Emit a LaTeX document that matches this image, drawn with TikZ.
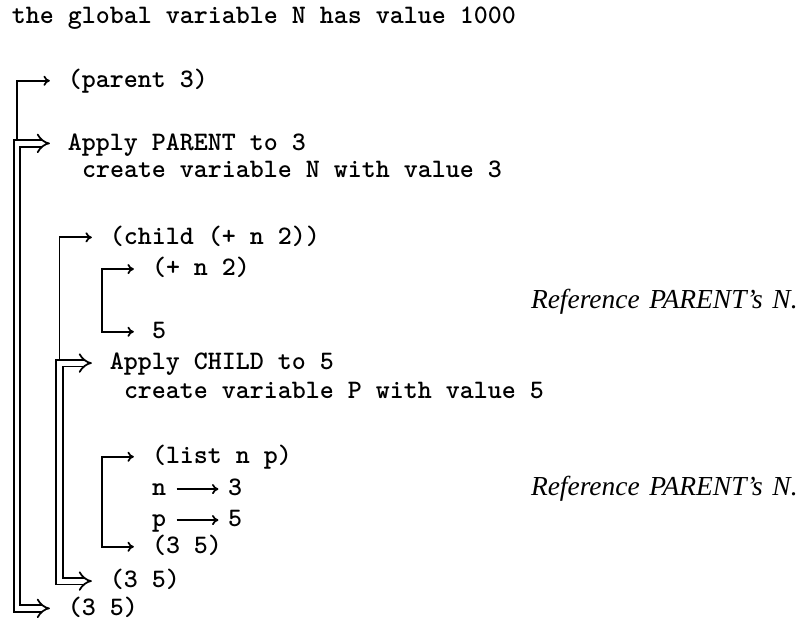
\documentclass[tikz,border=0pt]{standalone}
\usepackage{fontspec}
\newfontfamily\ttb{lmmonolt10-bold}[Extension=.otf]
\newfontfamily\refit{Liberation Serif}
\usetikzlibrary{arrows.meta}
\newcommand{\reftext}{Reference\hspace{3.6pt}PARENT’s\hspace{3.6pt}N.}
\begin{document}
\begin{tikzpicture}[x=0.375pt,y=-0.375pt,
  txt/.style={anchor=base west, inner sep=0pt, outer sep=0pt,
    font=\ttb\fontsize{10}{12}\selectfont, text height=6.2pt, text depth=1pt},
  reftxt/.style={anchor=base west, inner sep=0pt, outer sep=0pt,
    font=\refit\itshape\fontsize{10.3}{12}\selectfont},
  sarr/.style={line width=0.65pt, -{To[length=2.4pt,width=3.8pt]}, shorten >=6.8pt},
  sarrb/.style={line width=0.65pt, {To[length=2.4pt,width=3.8pt]}-{To[length=2.4pt,width=3.8pt]},
    shorten >=6.8pt, shorten <=6.8pt},
  darrb/.style={line width=0.65pt, double, double distance=1.85pt,
    {Implies}-{Implies}, shorten >=6.8pt, shorten <=6.8pt},
  larr/.style={line width=0.65pt, -{To[length=2.4pt,width=3.8pt]}, shorten <=4pt, shorten >=3.6pt},
]
\path[use as bounding box] (0,0) rectangle (799,623);

\node[txt] (title) at (12,24) {the global variable N has value 1000};
\node[txt] (parent) at (68,87.7) {(parent 3)};
\node[txt] (apply1) at (68,150.3) {Apply PARENT to 3};
\node[txt] (create1) at (82,178) {create variable N with value 3};
\node[txt] (child) at (110,244.3) {(child (+ n 2))};
\node[txt] (plus) at (152,276) {(+ n 2)};
\node[txt] (five) at (152,338.7) {5};
\node[reftxt] (ref1) at (531,308.3) {\reftext};
\node[txt] (apply2) at (110,370) {Apply CHILD to 5};
\node[txt] (create2) at (124,399) {create variable P with value 5};
\node[txt] (list) at (152,463.7) {(list n p)};
\node[txt] (nn) at (152,496) {n};
\node[txt] (three) at (228,496) {3};
\node[reftxt] (ref2) at (531,496) {\reftext};
\node[txt] (pp) at (152,527) {p};
\node[txt] (fiveb) at (228,527) {5};
\node[txt] (res3) at (152,553.7) {(3 5)};
\node[txt] (res2) at (110,588) {(3 5)};
\node[txt] (res1) at (68,615.3) {(3 5)};

\coordinate (o1) at (17,140);
\coordinate (d1) at (17,400);
\coordinate (o2) at (59.5,359.5);
\coordinate (d2) at (59.5,470);
\coordinate (i1) at (101.7,300);
\coordinate (i2) at (101.7,500);

\draw[sarr] (o1) |- (parent);
\draw[darrb] (apply1) -| (d1) |- (res1);
\draw[sarr] (o2) |- (child);
\draw[darrb] (apply2) -| (d2) |- (res2);
\draw[sarrb] (plus) -| (i1) |- (five);
\draw[sarrb] (list) -| (i2) |- (res3);
\draw[larr] (nn) -- (three);
\draw[larr] (pp) -- (fiveb);
\end{tikzpicture}
\end{document}
